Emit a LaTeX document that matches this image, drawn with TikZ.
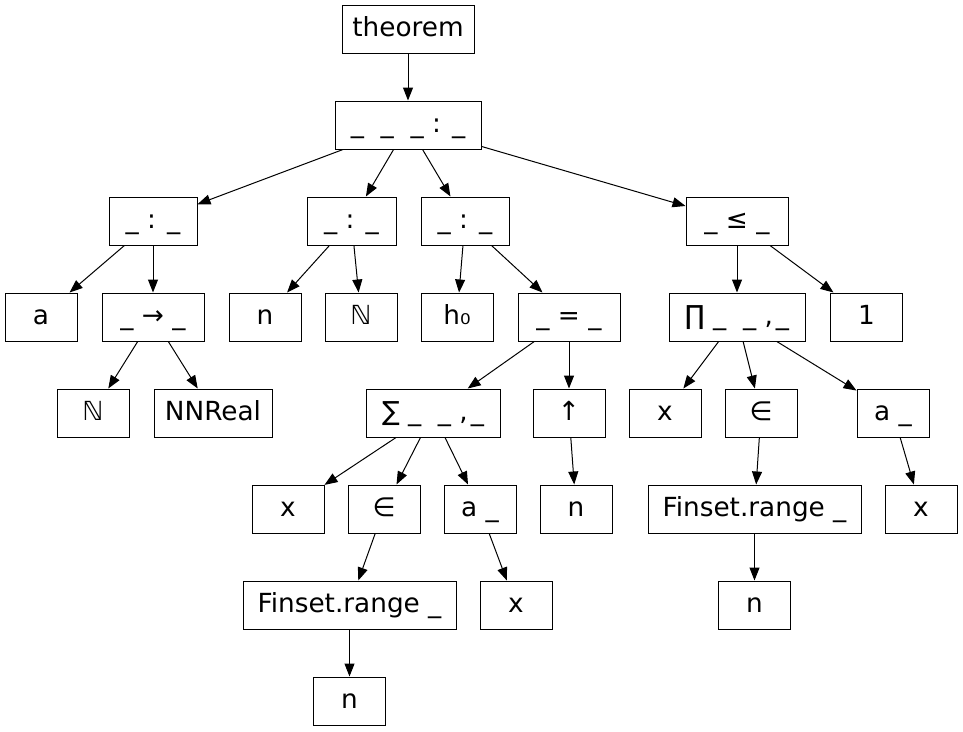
\documentclass[tikz,border=0pt]{standalone}
\usepackage{fontspec}
\setmainfont{DejaVu Sans}
\usetikzlibrary{arrows.meta}
\begin{document}
\begin{tikzpicture}[x=1pt,y=-1pt,
  box/.style={draw=black, line width=1pt, rectangle, minimum height=48pt, inner sep=0pt,
    text height=19.5pt, text depth=5.5pt, font=\fontsize{26.3}{31}\selectfont},
  edge/.style={draw=black, line width=1pt, -{Triangle[length=13pt,width=10pt]}}]
\useasboundingbox (0,0) rectangle (963,731);
% row 0
\node[box, minimum width=132pt] (thm) at (408,29) {theorem};
% row 1
\node[box, minimum width=146pt] (root) at (408,125) {\_\ \ \_\ \ \_ : \_};
% row 2
\node[box, minimum width=88pt] (c1) at (153,221) {\_ : \_};
\node[box, minimum width=89pt] (c2) at (351.5,221) {\_ : \_};
\node[box, minimum width=88pt] (c3) at (465,221) {\_ : \_};
\node[box, minimum width=102pt] (c4) at (737,221) {\_ ≤ \_};
% row 3
\node[box, minimum width=72pt] (a) at (41,317) {a};
\node[box, minimum width=102pt] (arr) at (153,317) {\_ → \_};
\node[box, minimum width=72pt] (n1) at (265,317) {n};
\node[box, minimum width=72pt] (N2) at (361,317) {ℕ};
\node[box, minimum width=72pt] (h0) at (457,317) {h₀};
\node[box, minimum width=102pt] (eq) at (569,317) {\_ = \_};
\node[box, minimum width=136pt] (prod) at (737,317) {∏\ \_\ \ \_\ ,\hspace{3pt}\_};
\node[box, minimum width=72pt] (one) at (866.5,317) {1};
% row 4
\node[box, minimum width=72pt] (N1) at (93,413) {ℕ};
\node[box, minimum width=118pt] (nnr) at (213,413) {NNReal};
\node[box, minimum width=134pt] (sum) at (433,413) {∑\ \_\ \ \_\ ,\hspace{3pt}\_};
\node[box, minimum width=72pt] (up) at (569,413) {↑};
\node[box, minimum width=72pt] (x3) at (665,413) {x};
\node[box, minimum width=72pt] (in2) at (761,413) {∈};
\node[box, minimum width=72pt] (a2) at (893,413) {a \_};
% row 5
\node[box, minimum width=72pt] (x1) at (288,509) {x};
\node[box, minimum width=72pt] (in1) at (384,509) {∈};
\node[box, minimum width=72pt] (a1) at (480,509) {a \_};
\node[box, minimum width=72pt] (n3) at (576,509) {n};
\node[box, minimum width=213pt] (fr2) at (754.5,509) {Finset.range \_};
\node[box, minimum width=72pt] (x4) at (921,509) {x};
% row 6
\node[box, minimum width=213pt] (fr1) at (349.5,605) {Finset.range \_};
\node[box, minimum width=72pt] (x2) at (516,605) {x};
\node[box, minimum width=72pt] (n4) at (754.5,605) {n};
% row 7
\node[box, minimum width=72pt] (n2) at (349.5,701) {n};
% edges
\draw[edge] (thm) -- (root);
\draw[edge] (root) -- (c1);
\draw[edge] (root) -- (c2);
\draw[edge] (root) -- (c3);
\draw[edge] (root) -- (c4);
\draw[edge] (c1) -- (a);
\draw[edge] (c1) -- (arr);
\draw[edge] (arr) -- (N1);
\draw[edge] (arr) -- (nnr);
\draw[edge] (c2) -- (n1);
\draw[edge] (c2) -- (N2);
\draw[edge] (c3) -- (h0);
\draw[edge] (c3) -- (eq);
\draw[edge] (eq) -- (sum);
\draw[edge] (eq) -- (up);
\draw[edge] (sum) -- (x1);
\draw[edge] (sum) -- (in1);
\draw[edge] (sum) -- (a1);
\draw[edge] (in1) -- (fr1);
\draw[edge] (a1) -- (x2);
\draw[edge] (fr1) -- (n2);
\draw[edge] (up) -- (n3);
\draw[edge] (c4) -- (prod);
\draw[edge] (c4) -- (one);
\draw[edge] (prod) -- (x3);
\draw[edge] (prod) -- (in2);
\draw[edge] (prod) -- (a2);
\draw[edge] (in2) -- (fr2);
\draw[edge] (a2) -- (x4);
\draw[edge] (fr2) -- (n4);
\end{tikzpicture}
\end{document}
